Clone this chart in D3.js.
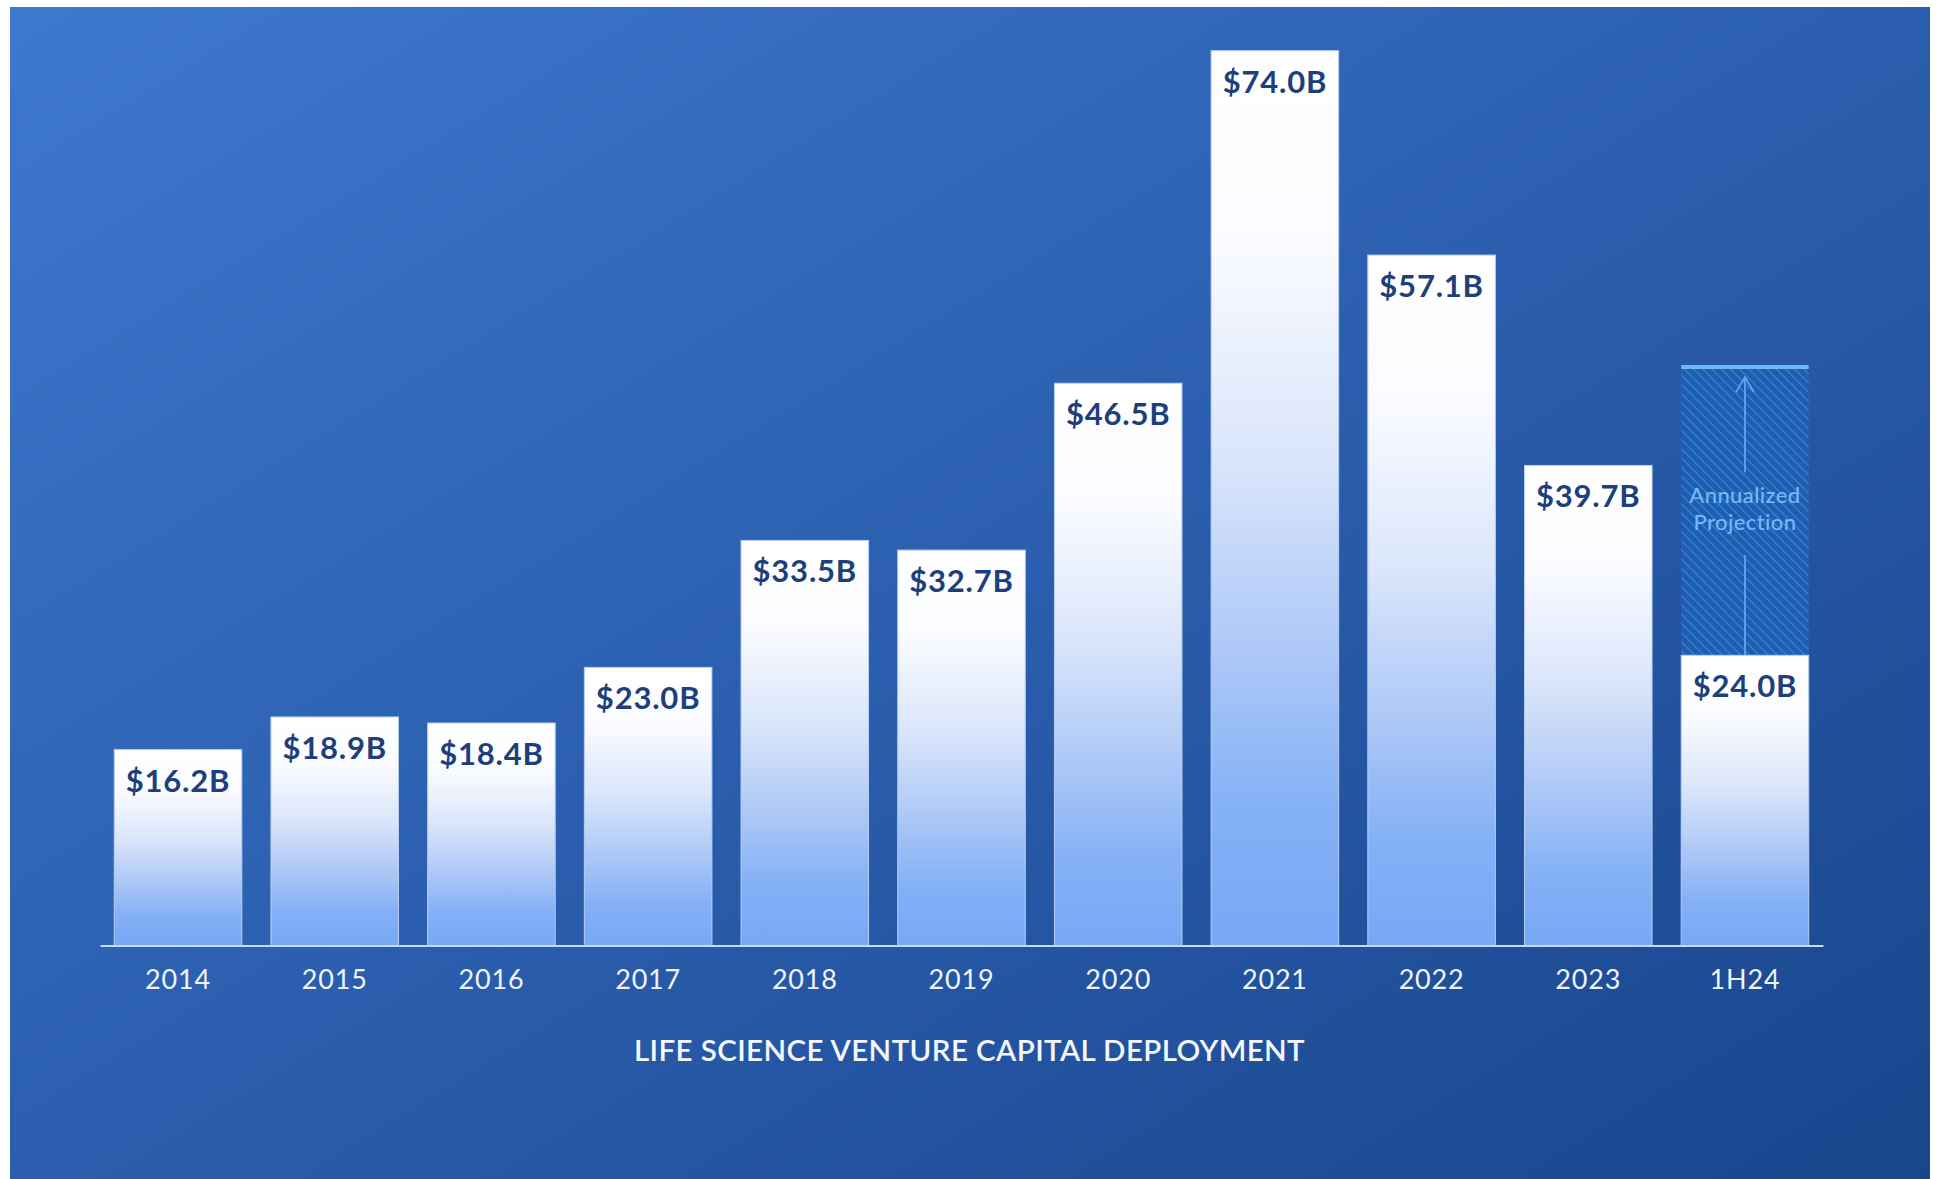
<!DOCTYPE html>
<html>
<head>
<meta charset="utf-8">
<script src="https://cdn.jsdelivr.net/npm/d3@7/dist/d3.min.js"></script>
<style>
  html, body { margin: 0; padding: 0; background: #ffffff; }
  svg { display: block; }
</style>
</head>
<body>
<svg id="chart" width="1939" height="1179"></svg>
<script>
// Life science venture capital deployment, $B per period
const periods = ["2014", "2015", "2016", "2017", "2018", "2019", "2020", "2021", "2022", "2023", "1H24"];
const deployed = [16.2, 18.9, 18.4, 23.0, 33.5, 32.7, 46.5, 74.0, 57.1, 39.7, 24.0];
const valueLabels = ["$16.2B", "$18.9B", "$18.4B", "$23.0B", "$33.5B", "$32.7B", "$46.5B", "$74.0B", "$57.1B", "$39.7B", "$24.0B"];
// 1H24 doubled to a full-year run rate
const projectionPeriod = ["1H24"];
const projectionValue = [48.0];
const projectionText = ["Annualized", "Projection"];
const chartTitle = "LIFE SCIENCE VENTURE CAPITAL DEPLOYMENT";

const svg = d3.select("#chart");
const defs = svg.append("defs");

// Panel background gradient
const bg = defs.append("linearGradient").attr("id", "bgGrad")
  .attr("x1", "0").attr("y1", "0").attr("x2", "1").attr("y2", "1");
bg.append("stop").attr("offset", "0").attr("stop-color", "#3e78cf");
bg.append("stop").attr("offset", "0.5").attr("stop-color", "#2b5eae");
bg.append("stop").attr("offset", "1").attr("stop-color", "#19458c");

// Bar fill: white at the top fading to light blue
const barGrad = defs.append("linearGradient").attr("id", "barGrad")
  .attr("x1", "0").attr("y1", "0").attr("x2", "0").attr("y2", "1");
[[0, "#ffffff"], [0.2, "#fbfcff"], [0.45, "#dbe6fb"], [0.65, "#b2cbf7"], [0.85, "#84b0f6"], [1, "#78a8f5"]]
  .forEach(([o, c]) => barGrad.append("stop").attr("offset", o).attr("stop-color", c));

// Diagonal hatch for the projection block
const hatch = defs.append("pattern").attr("id", "hatch")
  .attr("patternUnits", "userSpaceOnUse")
  .attr("width", 6.5).attr("height", 6.5)
  .attr("patternTransform", "rotate(-45)");
hatch.append("rect").attr("width", 6.5).attr("height", 6.5).attr("fill", "#1e5db0");
hatch.append("line").attr("x1", 0).attr("y1", 0).attr("x2", 0).attr("y2", 6.5)
  .attr("stroke", "#3b88d8").attr("stroke-width", 2.2);

svg.append("rect")
  .attr("x", 10).attr("y", 7).attr("width", 1920).attr("height", 1172)
  .attr("fill", "url(#bgGrad)");

const x = d3.scaleBand()
  .domain(periods)
  .range([100, 1823])
  .paddingInner(0.186)
  .paddingOuter(0.091);

const y = d3.scaleLinear()
  .domain([0, 74])
  .range([945.5, 50.7]);

const data = periods.map((p, i) => ({ period: p, value: deployed[i], label: valueLabels[i] }));

// Projection block above the 1H24 bar
const proj = projectionPeriod.map((p, i) => ({ period: p, value: projectionValue[i], base: deployed[periods.indexOf(p)] }));
const pg = svg.append("g");
pg.selectAll("rect.proj").data(proj).join("rect")
  .attr("class", "proj")
  .attr("x", d => x(d.period))
  .attr("y", d => y(d.value))
  .attr("width", x.bandwidth())
  .attr("height", d => y(d.base) - y(d.value))
  .attr("fill", "url(#hatch)");
pg.selectAll("line.cap").data(proj).join("line")
  .attr("class", "cap")
  .attr("x1", d => x(d.period)).attr("x2", d => x(d.period) + x.bandwidth())
  .attr("y1", d => y(d.value) + 2).attr("y2", d => y(d.value) + 2)
  .attr("stroke", "#6cbaf4").attr("stroke-width", 4);

proj.forEach(d => {
  const cx = x(d.period) + x.bandwidth() / 2;
  const top = y(d.value);
  const bot = y(d.base);
  const mid = (top + bot) / 2;
  const col = "#62aff2";
  // upper arrow segment with open head
  pg.append("line").attr("x1", cx).attr("x2", cx).attr("y1", top + 12).attr("y2", mid - 38)
    .attr("stroke", col).attr("stroke-width", 1.6);
  pg.append("path")
    .attr("d", `M${cx - 9},${top + 27} L${cx},${top + 12} L${cx + 9},${top + 27}`)
    .attr("fill", "none").attr("stroke", col).attr("stroke-width", 1.6);
  // lower segment down to the reported bar
  pg.append("line").attr("x1", cx).attr("x2", cx).attr("y1", mid + 45).attr("y2", bot)
    .attr("stroke", col).attr("stroke-width", 1.6);
  pg.selectAll(null).data(projectionText).join("text")
    .attr("x", cx)
    .attr("y", (t, i) => mid - 7 + i * 27)
    .attr("text-anchor", "middle")
    .attr("font-family", "Lato, 'Open Sans', sans-serif")
    .attr("font-weight", 500)
    .attr("font-size", 22)
    .attr("letter-spacing", 0.4)
    .attr("fill", "#72bbf6")
    .text(t => t);
});

// Bars
svg.append("g").selectAll("rect").data(data).join("rect")
  .attr("x", d => x(d.period))
  .attr("y", d => y(d.value))
  .attr("width", x.bandwidth())
  .attr("height", d => y(0) - y(d.value))
  .attr("fill", "url(#barGrad)")
  .attr("stroke", "#b9cff2")
  .attr("stroke-width", 1);

// Value labels inside the top of each bar
svg.append("g").selectAll("text").data(data).join("text")
  .attr("x", d => x(d.period) + x.bandwidth() / 2)
  .attr("y", d => y(d.value) + 42)
  .attr("text-anchor", "middle")
  .attr("font-family", "Lato, 'Open Sans', sans-serif")
  .attr("font-weight", 700)
  .attr("font-size", 31)
  .attr("letter-spacing", 0.8)
  .attr("fill", "#1d3f7b")
  .text(d => d.label);

// Baseline and period labels
const axis = d3.axisBottom(x).tickSize(0).tickPadding(24);
const ax = svg.append("g").attr("transform", `translate(0,${y(0)})`).call(axis);
ax.select(".domain").attr("stroke", "#c9d9f2").attr("stroke-width", 2);
ax.selectAll(".tick text")
  .attr("font-family", "Lato, 'Open Sans', sans-serif")
  .attr("font-size", 27)
  .attr("letter-spacing", 0.8)
  .attr("fill", "#eef3fc")
  .attr("dy", "0.71em");

svg.append("text")
  .attr("x", (x.range()[0] + x.range()[1]) / 2 + 8)
  .attr("y", 1061)
  .attr("text-anchor", "middle")
  .attr("font-family", "Lato, 'Open Sans', sans-serif")
  .attr("font-weight", 600)
  .attr("font-size", 29.5)
  .attr("letter-spacing", 0.4)
  .attr("fill", "#f4f7fd")
  .text(chartTitle);
</script>
</body>
</html>
